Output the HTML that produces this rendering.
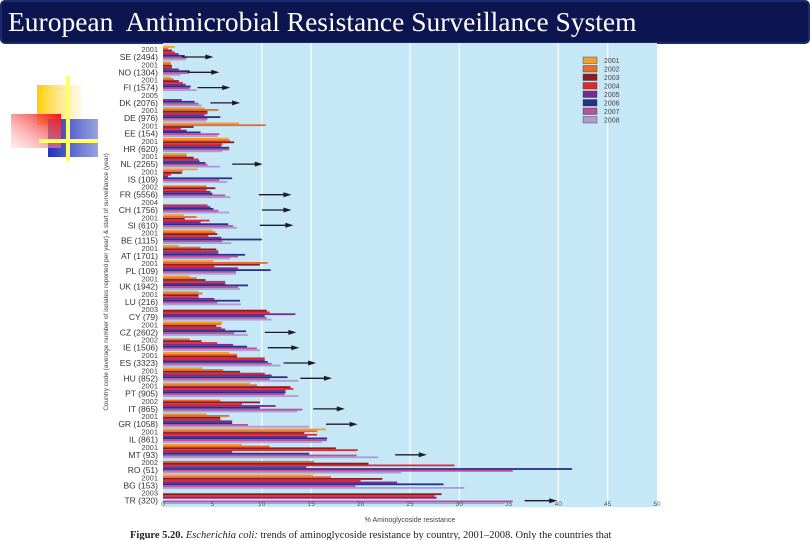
<!DOCTYPE html>
<html><head><meta charset="utf-8"><style>
html,body{margin:0;padding:0;background:#fff;}
#wrap{position:relative;width:810px;height:540px;overflow:hidden;background:#fff;font-family:"Liberation Sans",sans-serif;}
#hdr{position:absolute;left:0;top:0;width:806px;height:40px;background:#0c1550;border:2px solid #1a2a70;border-radius:5px;}
#hdr span{position:absolute;left:6px;top:4px;color:#fff;font-family:"Liberation Serif",serif;font-size:27.5px;white-space:nowrap;}
</style></head><body>
<div id="wrap">
<div id="hdr"><span>European&nbsp; Antimicrobial Resistance Surveillance System</span></div>
<svg width="110" height="180" style="position:absolute;left:0;top:0">
<defs>
<linearGradient id="gy" x1="0" x2="1"><stop offset="0" stop-color="#ffcc00"/><stop offset="1" stop-color="#ffe9a0" stop-opacity="0.3"/></linearGradient>
<linearGradient id="gr" x1="1" x2="0" y1="0" y2="1"><stop offset="0" stop-color="#ee1111"/><stop offset="1" stop-color="#ffd0d0" stop-opacity="0.4"/></linearGradient>
<linearGradient id="gb" x1="0" x2="1"><stop offset="0" stop-color="#2233bb"/><stop offset="1" stop-color="#9aa4e0"/></linearGradient>
</defs>
<rect x="37" y="85" width="44" height="40" fill="url(#gy)"/>
<rect x="48" y="119" width="50" height="38" fill="url(#gb)"/>
<rect x="11" y="114" width="50" height="34" fill="url(#gr)"/>
<rect x="66" y="76" width="4" height="85" fill="#ffff66"/>
<rect x="39" y="139" width="59" height="4" fill="#ffff66"/>
</svg>
<svg id="chart" width="810" height="540" style="position:absolute;left:0;top:0"></svg>
</div>
<script>
const countries=["SE (2494)","NO (1304)","FI (1574)","DK (2076)","DE (976)","EE (154)","HR (620)","NL (2265)","IS (109)","FR (5556)","CH (1756)","SI (610)","BE (1115)","AT (1701)","PL (109)","UK (1942)","LU (216)","CY (79)","CZ (2602)","IE (1506)","ES (3323)","HU (852)","PT (905)","IT (865)","GR (1058)","IL (861)","MT (93)","RO (51)","BG (153)","TR (320)"];
const startYears=["2001","2001","2001","2005","2001","2001","2001","2001","2001","2002","2004","2001","2001","2001","2001","2001","2001","2003","2001","2002","2001","2001","2001","2002","2001","2001","2001","2002","2001","2003"];
const years=["2001","2002","2003","2004","2005","2006","2007","2008"];
const v2001=[1.2,0.8,0.8,null,4.2,7.7,6.6,2.4,3.5,null,null,2.1,5.0,1.6,5.1,2.7,3.6,null,6.0,null,6.7,4.0,8.8,null,4.4,16.5,8.0,null,15.2,null];
const v2002=[0.5,0.8,1.1,null,5.6,10.4,6.8,2.4,2.0,4.4,null,3.4,5.3,3.8,10.6,3.4,4.0,null,5.9,2.7,7.5,6.1,9.5,5.8,6.7,15.6,10.8,15.3,17.0,null];
const v2003=[0.9,0.9,1.6,null,4.5,3.1,7.2,3.1,1.9,5.3,null,2.2,5.5,5.4,9.8,4.3,3.6,10.5,5.4,3.9,7.5,7.8,12.9,9.8,5.8,14.3,17.5,20.8,22.2,28.2];
const v2004=[1.2,0.9,2.0,null,4.5,1.8,6.0,3.6,0.8,4.4,4.5,4.7,4.6,5.6,5.2,6.3,3.6,10.8,5.9,5.5,10.3,10.3,13.2,8.0,5.8,15.6,19.7,29.5,20.0,27.5];
const v2005=[1.6,1.6,2.3,1.9,4.2,2.4,5.9,3.7,0.5,4.8,4.8,3.8,5.9,5.6,7.6,6.3,5.2,13.4,6.3,7.1,10.3,11.0,12.4,11.4,7.0,14.6,7.0,14.5,23.7,27.7];
const v2006=[2.2,2.7,2.8,3.2,5.8,3.8,6.7,4.3,7.0,5.0,5.1,6.6,10.0,8.3,10.9,8.6,7.8,10.3,8.4,8.5,10.6,12.6,12.4,9.8,7.0,16.6,14.8,41.4,28.4,null];
const v2007=[2.4,2.6,2.7,3.6,4.5,5.7,6.7,4.5,5.7,6.3,5.6,7.1,6.0,7.6,7.4,7.6,5.5,10.5,7.2,9.5,11.0,10.8,12.3,14.1,8.6,16.6,19.6,35.4,19.5,35.4];
const v2008=[2.3,1.8,3.4,3.9,4.4,5.5,6.0,5.8,6.5,6.8,6.7,7.5,6.9,6.8,7.4,7.8,7.9,11.0,8.6,9.8,11.9,13.7,13.7,13.6,14.8,16.1,21.8,24.1,30.5,34.6];
const arrowRows=[0,1,2,3,7,9,10,11,18,19,20,21,23,24,26,29];
const arrowFrom=[1.9,2.5,3.5,4.8,7.0,9.7,10.0,9.8,10.3,10.6,12.2,13.9,15.2,16.5,23.5,36.6];
const arrowTo=[5.1,5.7,6.8,7.8,10.1,13.0,13.0,13.2,13.5,13.8,15.5,17.1,18.4,19.7,26.7,39.9];
const xTicks=[0,5,10,15,20,25,30,35,40,45,50];
const gridVals=[10,15,25,30,40,45];
const colors=["#f0a030","#ea6a2c","#8a1c22","#e02a30","#7a2a8c","#28308a","#b8529e","#b09ad2"];
const series=[v2001,v2002,v2003,v2004,v2005,v2006,v2007,v2008];

const X0=163,X1=657,Y0=43,Y1=507;
const xs=v=>X0+(v/50)*(X1-X0);
const rowC=i=>53+i*15.3;
const NS="http://www.w3.org/2000/svg";
const svg=document.getElementById('chart');
function mk(t,a,p){const e=document.createElementNS(NS,t);for(const k in a)e.setAttribute(k,a[k]);(p||svg).appendChild(e);return e;}

const bg=mk('rect',{x:X0,y:Y0,width:X1-X0,height:Y1-Y0,fill:'#c6e7f6'});


gridVals.forEach(g=>{const l=mk('line',{x1:xs(g),x2:xs(g),y1:Y0,y2:Y1,stroke:'#fff','stroke-width':1.2});

});

series.forEach((s,k)=>{s.forEach((v,i)=>{if(v==null)return;
const r=mk('rect',{x:X0,y:rowC(i)-7+k*1.8,width:xs(v)-X0,height:1.8,fill:colors[k]});

});});

arrowRows.forEach((row,j)=>{const y=rowC(row)+4;
const g=mk('g',{});


mk('line',{x1:xs(arrowFrom[j]),x2:xs(arrowTo[j])-5,y1:y,y2:y,stroke:'#1a1a2a','stroke-width':1.3},g);
const xe=xs(arrowTo[j]);
mk('polygon',{points:`${xe},${y} ${xe-8},${y-2.5} ${xe-8},${y+2.5}`,fill:'#1a1a2a'},g);});

countries.forEach((c,i)=>{const y=rowC(i);
const t1=mk('text',{x:158,y:y-1,'text-anchor':'end','font-size':7.5,fill:'#444'});t1.textContent=startYears[i];


const t2=mk('text',{x:158,y:y+7,'text-anchor':'end','font-size':8.5,fill:'#333'});t2.textContent=c;

});

xTicks.forEach(t=>{const tx=mk('text',{x:xs(t),y:506,'text-anchor':'middle','font-size':6.5,fill:'#555'});tx.textContent=t;

});

const xt=mk('text',{x:410,y:522,'text-anchor':'middle','font-size':7,fill:'#444'});xt.textContent='% Aminoglycoside resistance';


const yt=mk('text',{x:0,y:0,'text-anchor':'middle','font-size':6.5,fill:'#444',transform:'translate(108,282) rotate(-90)'});yt.textContent='Country code (average number of isolates reported per year) & start of surveillance (year)';



years.forEach((yr,k)=>{const y=57+k*8.5;
const g=mk('g',{});


mk('rect',{x:583,y:y,width:14,height:6.5,fill:colors[k],stroke:'#333','stroke-width':0.4},g);
const t=mk('text',{x:604,y:y+6,'font-size':7,fill:'#444'},g);t.textContent=yr;});

const cap=mk('text',{x:130,y:538,'font-size':10.5,fill:'#222','font-family':'Liberation Serif, serif'});
cap.innerHTML='<tspan font-weight="bold">Figure 5.20.</tspan> <tspan font-style="italic">Escherichia coli:</tspan> trends of aminoglycoside resistance by country, 2001–2008. Only the countries that';


</script>
</body></html>
